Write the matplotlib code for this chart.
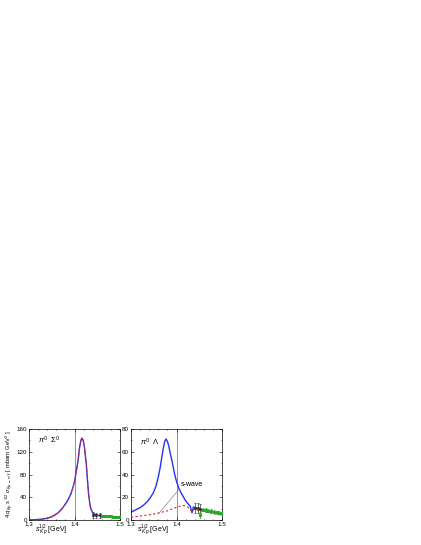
"""Kbar p -> pi Y cross sections, two small panels."""

import matplotlib.pyplot as plt
from matplotlib.ticker import MultipleLocator

plt.rcParams["font.family"] = ["Liberation Sans", "DejaVu Sans"]
plt.rcParams["mathtext.fontset"] = "custom"
plt.rcParams["mathtext.rm"] = "Liberation Sans"
plt.rcParams["mathtext.it"] = "Liberation Sans:italic"

# pi0 Sigma0 channel
sig_x = [1.300, 1.310, 1.320, 1.330, 1.340, 1.350, 1.356, 1.364, 1.371, 1.378,
         1.386, 1.392, 1.396, 1.400, 1.404, 1.408, 1.411, 1.414, 1.4165, 1.419,
         1.422, 1.424, 1.426, 1.428, 1.431, 1.4335, 1.4355, 1.438, 1.440, 1.445,
         1.450, 1.460, 1.470, 1.480, 1.490, 1.500]
sig_y = [0.5, 0.8, 1.2, 2.0, 3.5, 6.0, 8.8, 13.0, 18.7, 26.0,
         36.0, 46.0, 56.0, 68.0, 86.0, 106.0, 127.0, 140.0, 144.0, 140.0,
         127.0, 112.0, 97.5, 75.0, 45.0, 30.0, 21.6, 16.0, 12.8, 10.0,
         8.5, 7.5, 6.8, 6.2, 5.8, 5.3]

sig_data_x = [1.441, 1.448, 1.455]
sig_data_y = [9.5, 9.0, 8.5]
sig_data_err = [5.0, 4.5, 4.5]
sig_green_x = [1.460, 1.465, 1.470, 1.475, 1.480, 1.485, 1.490, 1.495, 1.500]
sig_green_y = [7.0, 7.0, 6.5, 6.5, 6.5, 6.0, 6.0, 6.0, 5.5]
sig_green_err = [1.5, 1.5, 1.5, 1.5, 1.5, 1.5, 1.5, 1.5, 1.5]

# pi0 Lambda channel
lam_x = [1.300, 1.310, 1.320, 1.327, 1.335, 1.342, 1.349, 1.355, 1.360, 1.364,
         1.368, 1.371, 1.374, 1.377, 1.380, 1.383, 1.386, 1.390, 1.393, 1.396,
         1.400, 1.405, 1.410, 1.415, 1.420, 1.425, 1.430, 1.434, 1.437, 1.440,
         1.450, 1.460, 1.470, 1.480, 1.490, 1.500]
lam_y = [7.0, 9.0, 11.0, 13.0, 16.0, 19.5, 24.0, 30.0, 38.0, 46.0,
         56.0, 63.0, 69.0, 71.2, 69.0, 65.0, 59.0, 52.0, 46.0, 40.0,
         34.0, 28.0, 24.0, 20.5, 17.0, 14.5, 12.3, 6.5, 11.7, 11.0,
         9.8, 8.8, 7.8, 7.0, 6.2, 5.5]

swave_x = [1.300, 1.320, 1.340, 1.360, 1.380, 1.400, 1.410, 1.415, 1.420, 1.425,
           1.430, 1.434, 1.437, 1.440, 1.450, 1.460, 1.470, 1.480, 1.490, 1.500]
swave_y = [2.6, 3.6, 4.7, 6.3, 8.2, 11.4, 12.4, 12.8, 12.5, 11.5,
           9.5, 7.3, 9.3, 9.2, 8.4, 7.5, 6.6, 5.8, 5.0, 4.4]

lam_data_x = [1.441, 1.4465, 1.4517]
lam_data_y = [11.0, 10.5, 10.0]
lam_data_err = [4.5, 4.5, 4.0]
lam_green_x = [1.452, 1.458, 1.464, 1.470, 1.476, 1.482, 1.488, 1.494, 1.499]
lam_green_y = [4.4, 9.3, 9.0, 8.5, 8.0, 7.5, 7.0, 6.5, 6.0]
lam_green_err = [2.5, 1.5, 1.5, 1.5, 1.5, 1.5, 1.5, 1.5, 1.5]

XLABEL = r"$s^{1/2}_{\ \bar{K}p}$ [GeV]"
YLABEL = r"4 $q_{\bar{K}p}$ $s^{1/2}$ $\sigma_{\bar{K}p\rightarrow\pi Y}$ [ mbarn GeV$^2$ ]"

fig = plt.figure(figsize=(4.21, 5.45), dpi=100)
ax_sig = fig.add_axes([0.0689, 0.0455, 0.2162, 0.1675])
ax_lam = fig.add_axes([0.3112, 0.0455, 0.2162, 0.1675])


def style_axis(ax, ymax, ystep):
    ax.set_xlim(1.3, 1.5)
    ax.set_ylim(0, ymax)
    ax.xaxis.set_major_locator(MultipleLocator(0.1))
    ax.xaxis.set_minor_locator(MultipleLocator(0.02))
    ax.yaxis.set_major_locator(MultipleLocator(ystep))
    ax.yaxis.set_minor_locator(MultipleLocator(ystep / 2))
    ax.tick_params(which="both", direction="in", top=True, right=True,
                   labelsize=4.5, pad=1.5, width=0.4)
    ax.tick_params(which="major", length=2.0)
    ax.tick_params(which="minor", length=1.0)
    ax.set_xticks([1.3, 1.4, 1.5])
    ax.set_xticklabels(["1.3", "1.4", "1.5"])
    for spine in ax.spines.values():
        spine.set_linewidth(0.5)
    ax.axvline(1.4, color="#666666", linewidth=0.5, zorder=1)
    ax.text(0.24, -0.025, XLABEL, transform=ax.transAxes, fontsize=5,
            ha="center", va="top")


def draw_points(ax, x, y, err, green_x, green_y, green_err):
    ax.errorbar(x, y, yerr=err, fmt="o", color="#333333", markersize=1.2,
                elinewidth=0.5, capsize=1.0, capthick=0.5, zorder=4)
    ax.errorbar(green_x, green_y, yerr=green_err, fmt="s", color="#22aa22",
                markersize=1.2, elinewidth=0.5, capsize=0.8, capthick=0.5,
                zorder=4)


style_axis(ax_sig, 160, 40)
ax_sig.plot(sig_x, sig_y, color="#2233ee", linewidth=1.0, zorder=2)
ax_sig.plot(sig_x, sig_y, color="#ee2222", linewidth=0.8, linestyle=(0, (2, 2)),
            zorder=3)
draw_points(ax_sig, sig_data_x, sig_data_y, sig_data_err,
            sig_green_x, sig_green_y, sig_green_err)
ax_sig.text(0.1, 0.87, r"$\pi^0\ \ \Sigma^0$", transform=ax_sig.transAxes,
            fontsize=5.5, ha="left", va="center")
ax_sig.set_ylabel(YLABEL, fontsize=4.2, labelpad=1)

style_axis(ax_lam, 80, 20)
ax_lam.plot(lam_x, lam_y, color="#2233ee", linewidth=1.0, zorder=2)
ax_lam.plot(swave_x, swave_y, color="#ee2222", linewidth=0.8,
            linestyle=(0, (2, 2)), zorder=3)
draw_points(ax_lam, lam_data_x, lam_data_y, lam_data_err,
            lam_green_x, lam_green_y, lam_green_err)
ax_lam.text(0.1, 0.85, r"$\pi^0\ \ \Lambda$", transform=ax_lam.transAxes,
            fontsize=5.5, ha="left", va="center")
ax_lam.annotate("s-wave", xy=(1.36, 5.5), xytext=(1.41, 31),
                fontsize=5, ha="left", va="center",
                arrowprops=dict(arrowstyle="-", color="#888888", lw=0.5,
                                shrinkA=0, shrinkB=0,
                                relpos=(0.0, 0.2)))

fig.savefig("out.png", dpi=100)
